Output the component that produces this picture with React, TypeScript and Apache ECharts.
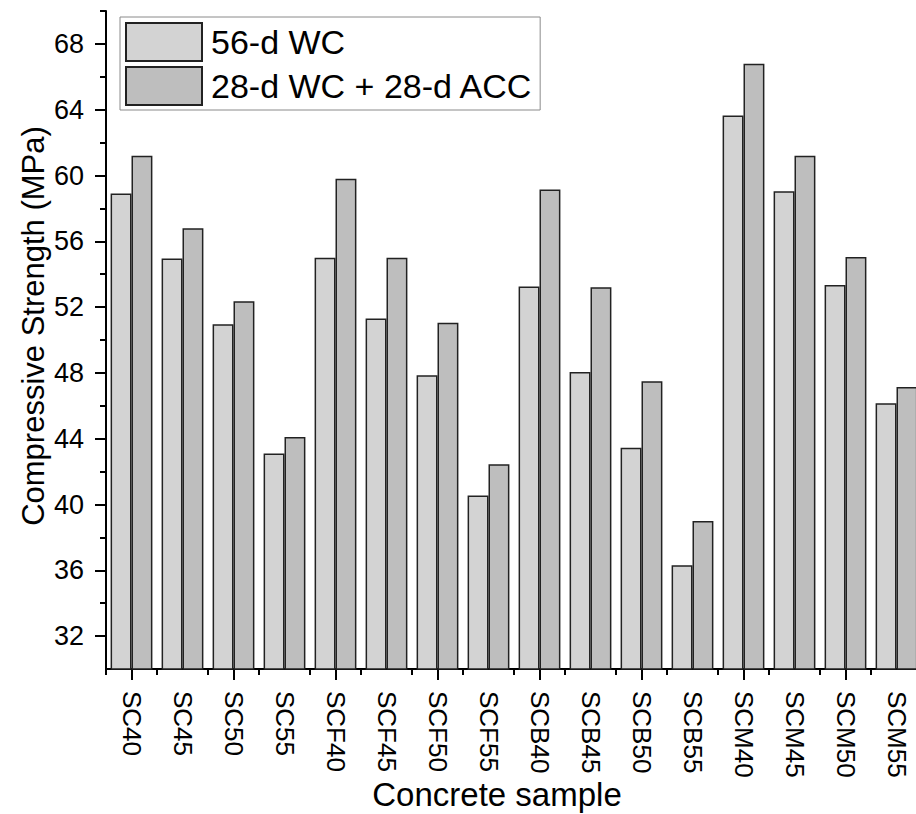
import React, { useEffect, useRef } from "react";
import * as echarts from "echarts";

const categories = [
  "SC40", "SC45", "SC50", "SC55",
  "SCF40", "SCF45", "SCF50", "SCF55",
  "SCB40", "SCB45", "SCB50", "SCB55",
  "SCM40", "SCM45", "SCM50", "SCM55",
];
const wc56 = [58.9, 54.95, 50.95, 43.1, 55.0, 51.3, 47.85, 40.55, 53.25, 48.05, 43.45, 36.3, 63.65, 59.05, 53.35, 46.15];
const wcAcc = [61.2, 56.8, 52.35, 44.1, 59.8, 55.0, 51.05, 42.45, 59.15, 53.2, 47.5, 39.0, 66.8, 61.2, 55.05, 47.15];
const seriesNames = ["56-d WC", "28-d WC + 28-d ACC"];
const yMajorTicks = [32, 36, 40, 44, 48, 52, 56, 60, 64, 68];
const yMinorTicks = [34, 38, 42, 46, 50, 54, 58, 62, 66, 70];
const yMin = 30;
const yMax = 70;

const FONT = "'Liberation Sans', Arial, Helvetica, sans-serif";

export default function App() {
  const ref = useRef<HTMLDivElement>(null);
  useEffect(() => {
    if (!ref.current) return;
    const chart = echarts.init(ref.current, null, { renderer: "svg" });
    const axisLine = { show: true, lineStyle: { color: "#000", width: 2 } };
    chart.setOption({
      animation: false,
      backgroundColor: "#fff",
      textStyle: { fontFamily: FONT },
      grid: {
        left: 106,
        top: 11,
        width: 816,
        height: 658,
        containLabel: false,
        outerBoundsMode: "none",
      },
      legend: {
        left: 120,
        top: 17,
        orient: "vertical",
        itemWidth: 76,
        itemHeight: 38,
        itemGap: 4,
        padding: [5, 7, 4, 5],
        borderColor: "#8a8a8a",
        borderWidth: 1,
        icon: "rect",
        textStyle: { fontFamily: FONT, fontSize: 34, color: "#000", padding: [0, 0, 0, 4] },
        data: seriesNames,
      },
      xAxis: [
        {
          type: "category",
          data: categories,
          position: "bottom",
          axisLine,
          axisTick: { show: true, length: 6, lineStyle: { color: "#000", width: 2 } },
          axisLabel: { rotate: -90, fontSize: 26, color: "#000", fontFamily: FONT, margin: 22, interval: 0 },
          splitLine: { show: false },
          name: "Concrete sample",
          nameLocation: "middle",
          nameGap: 109,
          nameMoveOverlap: false,
          nameTextStyle: { fontSize: 33, color: "#000", fontFamily: FONT, padding: [0, 34, 0, 0] },
        },
        {
          type: "category",
          data: categories,
          position: "bottom",
          axisLine: { show: false },
          axisTick: { show: true, alignWithLabel: true, length: 11, lineStyle: { color: "#000", width: 2 } },
          axisLabel: { show: false },
          splitLine: { show: false },
        },
      ],
      yAxis: [
        {
          type: "value",
          min: yMin,
          max: yMax,
          axisLine,
          axisTick: { show: true, length: 11, customValues: yMajorTicks, lineStyle: { color: "#000", width: 2 } },
          axisLabel: { fontSize: 27, color: "#000", fontFamily: FONT, margin: 22, customValues: yMajorTicks },
          splitLine: { show: false },
          name: "Compressive Strength (MPa)",
          nameLocation: "middle",
          nameGap: 57,
          nameMoveOverlap: false,
          nameTextStyle: { fontSize: 31, color: "#000", fontFamily: FONT, padding: [0, 0, 0, 28] },
        },
        {
          type: "value",
          min: yMin,
          max: yMax,
          position: "left",
          axisLine: { show: false },
          axisTick: { show: true, length: 6, customValues: yMinorTicks, lineStyle: { color: "#000", width: 2 } },
          axisLabel: { show: false },
          splitLine: { show: false },
        },
      ],
      series: [
        {
          name: seriesNames[0],
          type: "bar",
          data: wc56,
          barGap: "0%",
          barCategoryGap: "18%",
          itemStyle: { color: "#d3d3d3", borderColor: "#222", borderWidth: 1.5 },
        },
        {
          name: seriesNames[1],
          type: "bar",
          data: wcAcc,
          barGap: "0%",
          barCategoryGap: "18%",
          itemStyle: { color: "#bebebe", borderColor: "#222", borderWidth: 1.5 },
        },
      ],
    });
    return () => chart.dispose();
  }, []);
  return (
    <div
      ref={ref}
      style={{ position: "fixed", left: 0, top: 0, width: 916, height: 814, background: "#fff" }}
    />
  );
}
